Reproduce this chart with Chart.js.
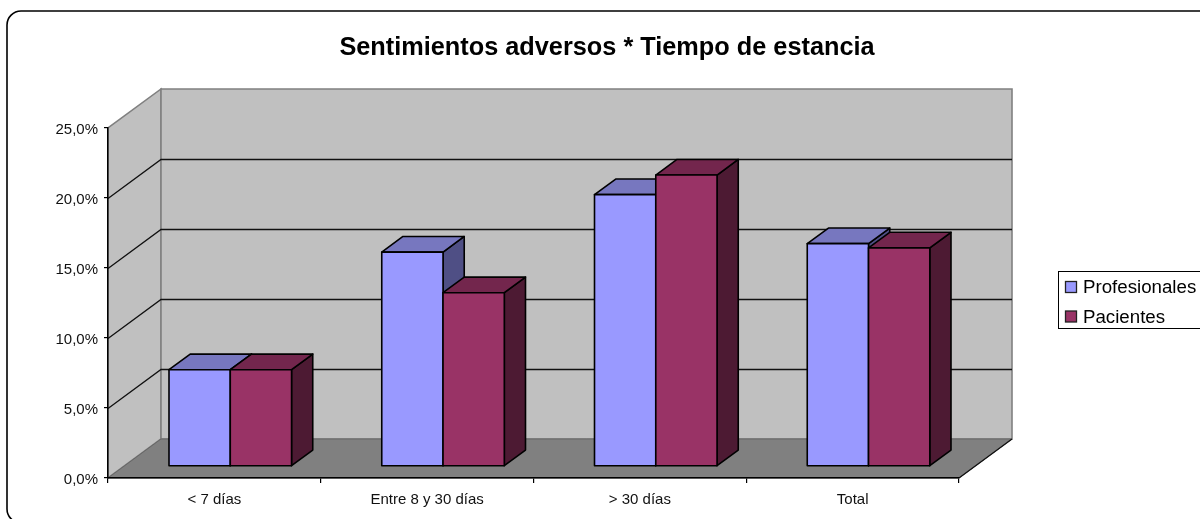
<!DOCTYPE html>
<html>
<head>
<meta charset="utf-8">
<title>Sentimientos adversos * Tiempo de estancia</title>
<script src="https://cdn.jsdelivr.net/npm/chart.js@4"></script>
<style>
    html, body { margin: 0; padding: 0; background: #fff; overflow: hidden; }
    canvas { display: block; }
</style>
</head>
<body>
<canvas id="chart" width="1200" height="519"></canvas>
<script>
const categories = ["< 7 días", "Entre 8 y 30 días", "> 30 días", "Total"];
const profesionales = [6.9, 15.3, 19.4, 15.9];
const pacientes = [6.9, 12.4, 20.8, 15.6];
const yTicks = [0, 5, 10, 15, 20, 25];
const chartTitle = "Sentimientos adversos * Tiempo de estancia";
const seriesNames = ["Profesionales", "Pacientes"];

const FONT = '"Liberation Sans", Arial, sans-serif';
const WALL_DX = 53, WALL_DY = -39;   // how far the back wall sits behind the front plane
const BAR_OFFSET = 0.3;              // front of the bars, as a share of the floor depth
const BAR_DEPTH = 0.4;               // depth of the bars, same unit

const shades = [
    { front: '#9999FF', top: '#7777BF', side: '#4F4F85' },
    { front: '#993366', top: '#73264D', side: '#4D1A33' }
];

function poly(ctx, points, fill, stroke, lineWidth) {
    ctx.beginPath();
    points.forEach((p, i) => i ? ctx.lineTo(p[0], p[1]) : ctx.moveTo(p[0], p[1]));
    ctx.closePath();
    if (fill) { ctx.fillStyle = fill; ctx.fill(); }
    if (stroke) { ctx.strokeStyle = stroke; ctx.lineWidth = lineWidth; ctx.stroke(); }
}

// Outer rounded frame, walls, floor and the gridlines that wrap round them
const backdrop = {
    id: 'backdrop',
    beforeDraw(chart) {
        const { ctx, chartArea: a, scales } = chart;
        ctx.save();
        ctx.fillStyle = '#fff';
        ctx.fillRect(0, 0, chart.width, chart.height);

        ctx.beginPath();
        ctx.roundRect(7, 11, 1210, 512, 14);
        ctx.strokeStyle = '#000';
        ctx.lineWidth = 1.6;
        ctx.stroke();

        const dx = WALL_DX, dy = WALL_DY;
        poly(ctx, [[a.left, a.top], [a.left + dx, a.top + dy], [a.left + dx, a.bottom + dy], [a.left, a.bottom]], '#C0C0C0', '#808080', 1.6);
        poly(ctx, [[a.left + dx, a.top + dy], [a.right + dx, a.top + dy], [a.right + dx, a.bottom + dy], [a.left + dx, a.bottom + dy]], '#C0C0C0', '#808080', 1.6);
        poly(ctx, [[a.left, a.bottom], [a.left + dx, a.bottom + dy], [a.right + dx, a.bottom + dy], [a.right, a.bottom]], '#808080', '#666', 1);

        ctx.strokeStyle = '#111';
        ctx.lineWidth = 1.3;
        yTicks.slice(1, -1).forEach(v => {
            const y = Math.round(scales.y.getPixelForValue(v)) + 0.5;
            ctx.beginPath();
            ctx.moveTo(a.left, y);
            ctx.lineTo(a.left + dx, y + dy);
            ctx.lineTo(a.right + dx, y + dy);
            ctx.stroke();
        });
        ctx.beginPath();
        ctx.moveTo(a.right, a.bottom);
        ctx.lineTo(a.right + dx, a.bottom + dy);
        ctx.stroke();
        ctx.restore();
    }
};

// Replaces the flat bars: takes each element's position from the scales and extrudes it
const bars3d = {
    id: 'bars3d',
    beforeDatasetsDraw(chart) {
        const ctx = chart.ctx;
        const offX = WALL_DX * BAR_OFFSET, offY = WALL_DY * BAR_OFFSET;
        const dx = WALL_DX * BAR_DEPTH, dy = WALL_DY * BAR_DEPTH;
        ctx.save();
        ctx.lineJoin = 'round';
        categories.forEach((c, i) => {
            chart.data.datasets.forEach((ds, d) => {
                const bar = chart.getDatasetMeta(d).data[i];
                const left = bar.x - bar.width / 2 + offX, right = bar.x + bar.width / 2 + offX;
                const top = bar.y + offY, base = bar.base + offY;
                const s = shades[d];
                poly(ctx, [[right, top], [right + dx, top + dy], [right + dx, base + dy], [right, base]], s.side, '#000', 1.6);
                poly(ctx, [[left, top], [left + dx, top + dy], [right + dx, top + dy], [right, top]], s.top, '#000', 1.6);
                poly(ctx, [[left, top], [right, top], [right, base], [left, base]], s.front, '#000', 1.6);
            });
        });
        ctx.restore();
        return false;
    }
};

// Legend box runs off the right edge of the picture, as in the source
const sideLegend = {
    id: 'sideLegend',
    afterDraw(chart) {
        const ctx = chart.ctx;
        ctx.save();
        ctx.strokeStyle = '#000';
        ctx.lineWidth = 1;
        ctx.strokeRect(1058.5, 271.5, 160, 57);
        ctx.font = '18.7px ' + FONT;
        ctx.textBaseline = 'middle';
        seriesNames.forEach((name, i) => {
            const y = 287 + i * 29.5;
            ctx.fillStyle = shades[i].front;
            ctx.fillRect(1065.5, y - 5.5, 11, 11);
            ctx.strokeStyle = '#222';
            ctx.lineWidth = 1.3;
            ctx.strokeRect(1065.5, y - 5.5, 11, 11);
            ctx.fillStyle = '#000';
            ctx.fillText(name, 1083, y + 1);
        });
        ctx.restore();
    }
};

new Chart(document.getElementById('chart').getContext('2d'), {
    type: 'bar',
    data: {
        labels: categories,
        datasets: [
            { label: seriesNames[0], data: profesionales, backgroundColor: shades[0].front, yAxisID: 'y' },
            { label: seriesNames[1], data: pacientes, backgroundColor: shades[1].front, yAxisID: 'y' }
        ]
    },
    options: {
        responsive: false,
        animation: false,
        events: [],
        categoryPercentage: 0.576,
        barPercentage: 1,
        layout: { padding: { left: 14, right: 0, top: 0, bottom: 0 } },
        plugins: {
            legend: { display: false },
            tooltip: { enabled: false },
            title: {
                display: true,
                text: chartTitle,
                color: '#000',
                font: { family: FONT, size: 25.3, weight: 'bold' },
                padding: { top: 33, bottom: 64.6 }
            }
        },
        scales: {
            x: {
                afterFit: s => { s.height = 41; },
                grid: { drawOnChartArea: false, color: '#000', tickLength: 5, tickColor: '#000', lineWidth: 1.2 },
                border: { color: '#000', width: 1.5 },
                ticks: { color: '#111', font: { family: FONT, size: 15 }, padding: 8, maxRotation: 0 }
            },
            y: {
                min: 0,
                max: 25,
                afterFit: s => { s.width = 94; },
                afterBuildTicks: s => { s.ticks = yTicks.map(v => ({ value: v })); },
                grid: { drawOnChartArea: false, color: '#000', tickLength: 4, tickColor: '#000', lineWidth: 1.2 },
                border: { color: '#000', width: 1.5 },
                ticks: {
                    color: '#111',
                    font: { family: FONT, size: 15 },
                    padding: 6,
                    labelOffset: 2,
                    callback: v => v.toFixed(1).replace('.', ',') + '%'
                }
            },
            // keeps the room on the right where the legend sits
            spacer: {
                position: 'right',
                afterFit: s => { s.width = 241; },
                grid: { display: false },
                border: { display: false },
                ticks: { display: false }
            }
        }
    },
    plugins: [backdrop, bars3d, sideLegend]
});
</script>
</body>
</html>
